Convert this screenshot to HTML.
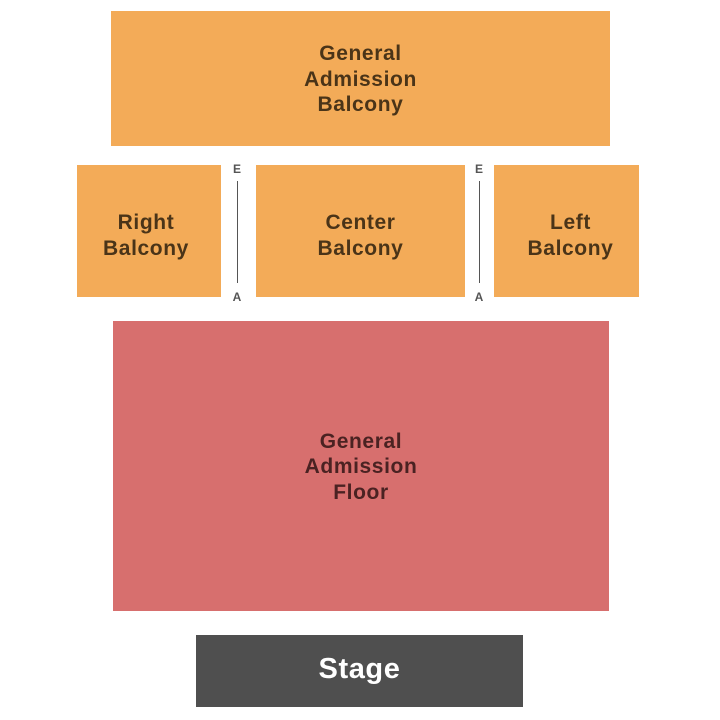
<!DOCTYPE html>
<html><head><style>
body{margin:0;width:720px;height:720px;background:#fff;position:relative;font-family:"Liberation Sans",sans-serif;font-weight:bold;overflow:hidden}
.b{position:absolute;display:flex;align-items:center;justify-content:center;text-align:center;font-size:21px;letter-spacing:0.6px;line-height:25.5px;color:#4a3418;box-sizing:border-box}
.o{background:#f3ab58}
.t{position:absolute;font-size:12px;color:#555;width:16px;text-align:center}
.l{position:absolute;width:1px;background:#555}
</style></head><body>
<div class="b o" style="left:111px;top:11px;width:499px;height:135px;padding-top:2px">General<br>Admission<br>Balcony</div>
<div class="b o" style="left:77px;top:165px;width:144px;height:132px;padding-top:9px;padding-right:6px">Right<br>Balcony</div>
<div class="b o" style="left:256px;top:165px;width:209px;height:132px;padding-top:9px">Center<br>Balcony</div>
<div class="b o" style="left:494px;top:165px;width:145px;height:132px;padding-top:9px;padding-left:8px">Left<br>Balcony</div>
<div class="b" style="left:113px;top:321px;width:496px;height:290px;background:#d76f6e;color:#4a2222;padding-top:2px">General<br>Admission<br>Floor</div>
<div class="b" style="left:196px;top:635px;width:327px;height:72px;background:#4f4f4f;color:#fff;font-size:29px;padding-bottom:2px">Stage</div>
<div class="t" style="left:229px;top:162px">E</div><div class="l" style="left:237px;top:181px;height:102px"></div><div class="t" style="left:229px;top:290px">A</div>
<div class="t" style="left:471px;top:162px">E</div><div class="l" style="left:479px;top:181px;height:102px"></div><div class="t" style="left:471px;top:290px">A</div>
</body></html>
